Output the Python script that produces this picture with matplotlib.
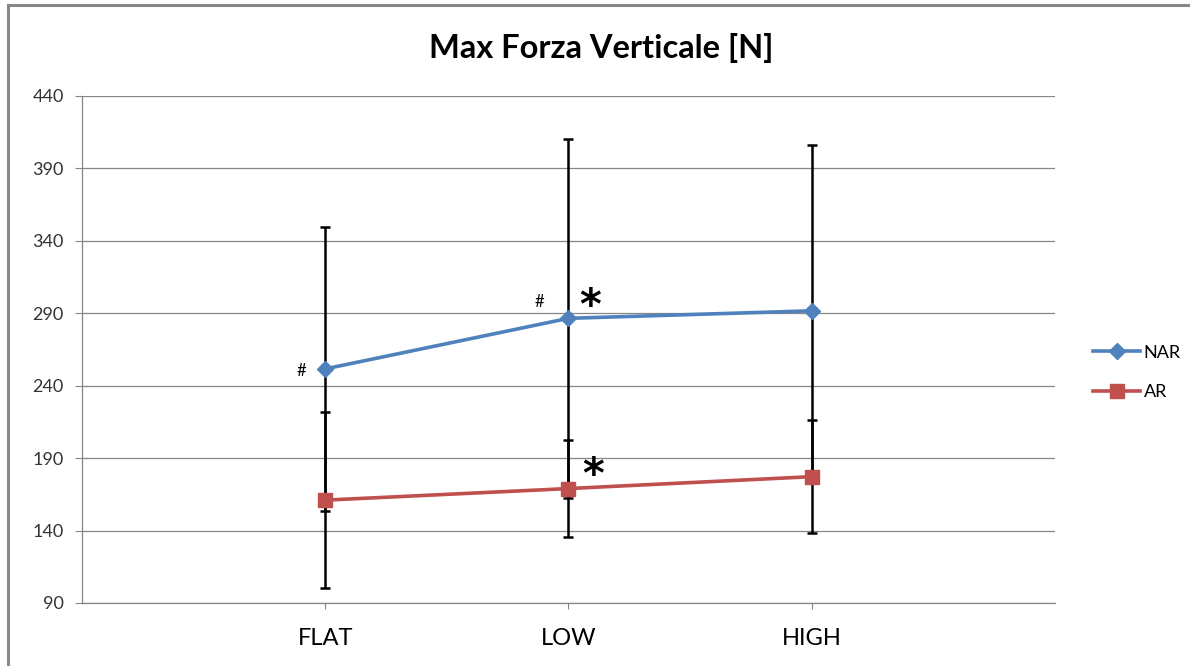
import numpy as np
import matplotlib
matplotlib.use('Agg')
import matplotlib.pyplot as plt
from matplotlib.patches import Rectangle

# medie ed errori per condizione
conditions = ['FLAT', 'LOW', 'HIGH']
nar_mean = [251.6, 286.5, 291.7]
nar_err = [98.0, 124.0, 114.5]
ar_mean = [161.0, 169.0, 177.2]
ar_err = [60.5, 33.5, 39.2]

# segni di significativita' (x, y, testo, dimensione)
marks = [(-0.1, 250.0, '#', 12), (0.88, 298.0, '#', 12),
         (1.09, 294.0, '*', 30), (1.1, 178.0, '*', 30)]

blue = '#4F81BD'
red = '#C0504D'
grid_col = '#868686'

fig = plt.figure(figsize=(11.9, 6.66), dpi=100)
ax = fig.add_axes([0.0689, 0.0946, 0.8176, 0.7613])

x = np.arange(len(conditions))

ax.errorbar(x, nar_mean, yerr=nar_err, fmt='none', ecolor='black',
            elinewidth=1.8, capsize=3.3, capthick=1.8, zorder=3)
ax.errorbar(x, ar_mean, yerr=ar_err, fmt='none', ecolor='black',
            elinewidth=1.8, capsize=3.3, capthick=1.8, zorder=3)

ax.plot(x, nar_mean, color=blue, lw=2.6, marker='D', ms=8,
        label='NAR', zorder=4)
ax.plot(x, ar_mean, color=red, lw=2.6, marker='s', ms=10,
        label='AR', zorder=4)

for mx, my, txt, fs in marks:
    if txt == '*':
        ax.text(mx, my, txt, fontsize=fs, ha='center', va='center',
                family='DejaVu Sans', fontweight='bold', color='black',
                zorder=5)
    else:
        ax.text(mx, my, txt, fontsize=fs, ha='center', va='center',
                family='Lato', color='black', zorder=5)

ax.set_xlim(-1, 3)
ax.set_ylim(90, 440)
ax.set_yticks(np.arange(90, 441, 50))
ax.set_xticks(x)
ax.set_xticklabels(conditions, fontsize=17, family='Lato')
for lab in ax.get_yticklabels():
    lab.set_family('Lato')
    lab.set_fontsize(13)
    lab.set_color('#333333')

ax.grid(axis='y', color=grid_col, lw=0.9)
ax.set_axisbelow(True)
for side in ['top', 'right']:
    ax.spines[side].set_visible(False)
for side in ['left', 'bottom']:
    ax.spines[side].set_color(grid_col)
    ax.spines[side].set_linewidth(0.9)
ax.tick_params(axis='y', length=5, color=grid_col, pad=8)
ax.tick_params(axis='x', length=4, color=grid_col, pad=14)

fig.text(0.505, 0.928, 'Max Forza Verticale [N]', fontsize=23.5,
         fontweight='bold', family='Lato', ha='center', va='center')

leg = fig.legend(loc='center left', bbox_to_anchor=(0.905, 0.441),
                 frameon=False, prop={'family': 'Lato', 'size': 13},
                 handlelength=2.6, labelspacing=1.3, handletextpad=0.2)

# cornice del grafico
fig.patches.append(Rectangle((0.0067, -0.05), 1.2, 0.9925 + 0.05,
                             transform=fig.transFigure, fill=False,
                             edgecolor='#888888', lw=2.2))

fig.savefig('out.png', dpi=100)
